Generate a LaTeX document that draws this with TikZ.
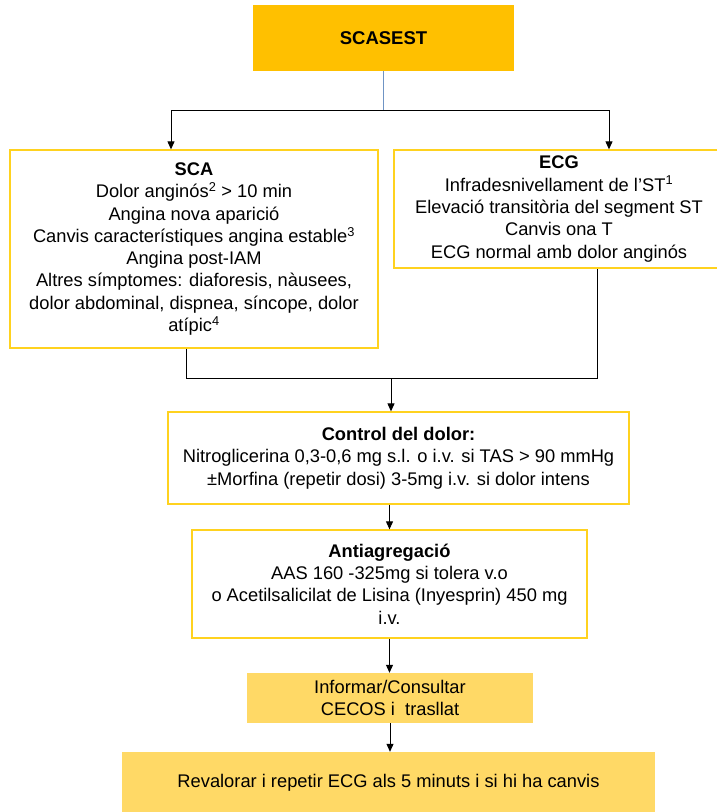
\documentclass[tikz,border=0pt]{standalone}
\usepackage{fontspec}
\setmainfont{Liberation Sans}
\usetikzlibrary{arrows.meta}
\definecolor{gold}{HTML}{FFC000}
\definecolor{lightgold}{HTML}{FFD966}
\definecolor{boxline}{HTML}{FFD21F}
\definecolor{steel}{HTML}{6F94C4}
\begin{document}
\begin{tikzpicture}[x=1pt,y=-1pt,
  txt/.style={font=\fontsize{18.3}{22.3}\selectfont, align=center, inner sep=0pt, text=black},
  outline/.style={txt, draw=boxline, line width=1.3pt, fill=white},
  goldbox/.style={txt, fill=lightgold},
  wire/.style={line width=1pt, black},
  arr/.style={wire, -{Triangle[length=8pt,width=7pt]}}]
\useasboundingbox (0,0) rectangle (716,812);

% boxes
\node[txt, fill=gold, minimum width=261pt, minimum height=66pt,
      font=\fontsize{18.5}{22}\selectfont\bfseries] (scasest) at (383.5,38) {SCASEST};

\node[outline, minimum width=368pt, minimum height=198pt] (sca) at (194,249)
  {\textbf{SCA}\\
   Dolor anginós\textsuperscript{2} > 10 min\\
   Angina nova aparició\\
   Canvis característiques angina estable\textsuperscript{3}\\
   Angina post-IAM\\
   Altres símptomes: diaforesis, nàusees,\\
   dolor abdominal, dispnea, síncope, dolor\\
   atípic\textsuperscript{4}};

\node[outline, minimum width=330pt, minimum height=118pt] (ecg) at (559,209)
  {\textbf{ECG}\\
   Infradesnivellament de l’ST\textsuperscript{1}\\
   Elevació transitòria del segment ST\\
   Canvis ona T\\
   ECG normal amb dolor anginós};

\node[outline, minimum width=461pt, minimum height=92pt] (ctrl) at (398.5,458)
  {\textbf{Control del dolor:}\\
   Nitroglicerina 0,3-0,6 mg s.l. o i.v. si TAS > 90 mmHg\\
   ±Morfina (repetir dosi) 3-5mg i.v. si dolor intens};

\node[outline, minimum width=395pt, minimum height=108pt] (antiag) at (389.5,584)
  {\textbf{Antiagregació}\\
   AAS 160 -325mg si tolera v.o\\
   o Acetilsalicilat de Lisina (Inyesprin) 450 mg\\
   i.v.};

\node[goldbox, minimum width=286pt, minimum height=50pt] (info) at (390,698)
  {Informar/Consultar\\CECOS i \ trasllat};

\node[goldbox, minimum width=533pt, minimum height=62pt] (reval) at (388.5,783)
  {Revalorar i repetir ECG als 5 minuts i si hi ha canvis};

% split below the title
\coordinate (sl) at (171,110);
\coordinate (sr) at (609,110);
\draw[line width=1.3pt, steel] (scasest.south) -- (scasest.south |- sl);
\draw[wire] (sl) -- (sr);
\draw[arr] (sl) -- (sl |- sca.north);
\draw[arr] (sr) -- (sr |- ecg.north);

% merge into pain control
\coordinate (jl) at (186,378);
\coordinate (jr) at (597,378);
\coordinate (jm) at (391,378);
\draw[wire] (jl |- sca.south) -- (jl) -- (jr) -- (jr |- ecg.south);
\draw[arr] (jm) -- (jm |- ctrl.north);

% vertical chain
\draw[arr] (ctrl.south -| antiag.north) -- (antiag.north);
\draw[arr] (antiag.south) -- (antiag.south |- info.north);
\draw[arr] (info.south) -- (info.south |- reval.north);
\end{tikzpicture}
\end{document}
